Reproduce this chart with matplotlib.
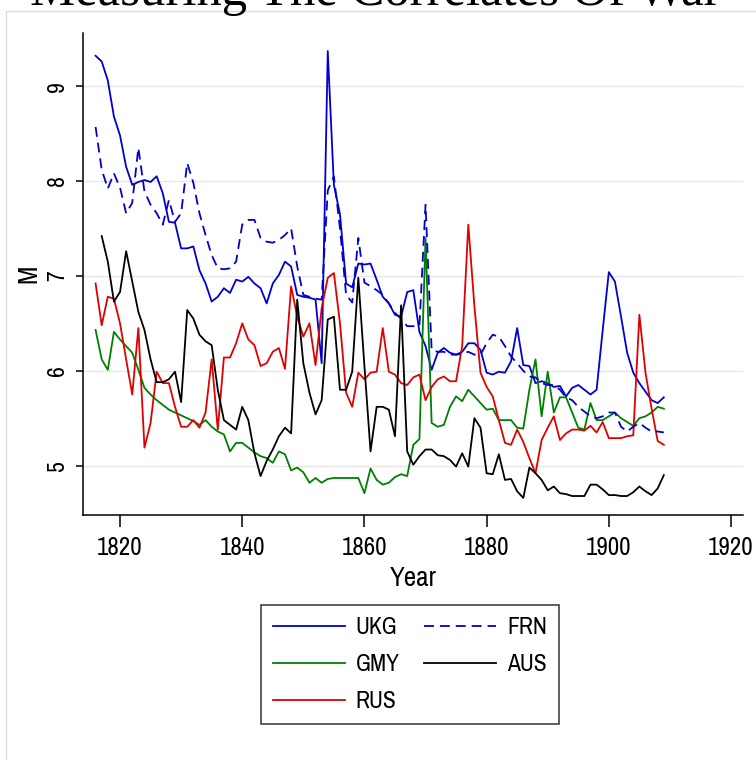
import numpy as np
import matplotlib
matplotlib.use("Agg")
import matplotlib.pyplot as plt
from matplotlib.patches import Rectangle

# Data (values of M by year, 1816-1909)
years = list(range(1816, 1910))

ukg = [9.32, 9.26, 9.06, 8.68,
       8.48, 8.15, 7.96, 7.99, 8.01, 7.99, 8.05, 7.87, 7.57, 7.56,
       7.29, 7.29, 7.31, 7.06, 6.92, 6.73, 6.78, 6.87, 6.82, 6.96,
       6.94, 6.99, 6.92, 6.87, 6.71, 6.92, 7.01, 7.15, 7.10, 6.80,
       6.78, 6.77, 6.75, 6.08, 9.37, 7.96, 7.65, 6.92, 6.88, 7.13,
       7.12, 7.13, 6.96, 6.78, 6.71, 6.59, 6.57, 6.83, 6.85, 6.41,
       6.26, 6.01, 6.19, 6.24, 6.19, 6.17, 6.20, 6.29, 6.29, 6.22,
       5.98, 5.96, 5.99, 5.98, 6.10, 6.45, 6.06, 6.05, 5.87, 5.89,
       5.87, 5.83, 5.84, 5.73, 5.82, 5.85, 5.80, 5.75, 5.80, 6.43,
       7.04, 6.94, 6.57, 6.19, 5.98, 5.87, 5.78, 5.69, 5.66, 5.72]

frn = [8.57, 8.12, 7.92, 8.08,
       7.93, 7.66, 7.77, 8.35, 7.89, 7.75, 7.66, 7.54, 7.80, 7.57,
       7.66, 8.19, 7.98, 7.66, 7.43, 7.22, 7.08, 7.07, 7.08, 7.15,
       7.54, 7.59, 7.59, 7.40, 7.36, 7.35, 7.38, 7.43, 7.50, 7.10,
       6.80, 6.78, 6.76, 6.75, 7.90, 8.05, 7.50, 6.80, 6.72, 7.40,
       6.93, 6.89, 6.85, 6.80, 6.71, 6.61, 6.55, 6.47, 6.47, 6.47,
       7.75, 6.22, 6.20, 6.20, 6.17, 6.17, 6.18, 6.20, 6.17, 6.17,
       6.29, 6.38, 6.36, 6.26, 6.15, 6.08, 6.00, 5.94, 5.93, 5.87,
       5.85, 5.85, 5.80, 5.72, 5.69, 5.62, 5.57, 5.52, 5.50, 5.52,
       5.56, 5.56, 5.41, 5.36, 5.41, 5.45, 5.40, 5.36, 5.36, 5.35]

gmy = [6.43, 6.12, 6.01, 6.41,
       6.33, 6.26, 6.19, 6.01, 5.82, 5.75, 5.69, 5.64, 5.59, 5.56,
       5.53, 5.50, 5.47, 5.43, 5.48, 5.41, 5.36, 5.33, 5.15, 5.24,
       5.24, 5.19, 5.14, 5.10, 5.08, 5.03, 5.15, 5.12, 4.95, 4.98,
       4.93, 4.82, 4.87, 4.82, 4.86, 4.87, 4.87, 4.87, 4.87, 4.87,
       4.71, 4.97, 4.85, 4.80, 4.82, 4.88, 4.91, 4.89, 5.22, 5.28,
       7.40, 5.45, 5.41, 5.43, 5.62, 5.73, 5.68, 5.80, 5.73, 5.66,
       5.59, 5.60, 5.48, 5.48, 5.48, 5.40, 5.39, 5.80, 6.12, 5.52,
       5.99, 5.56, 5.72, 5.72, 5.56, 5.40, 5.38, 5.66, 5.48, 5.48,
       5.52, 5.56, 5.50, 5.46, 5.42, 5.50, 5.52, 5.56, 5.62, 5.60]

rus = [6.92, 6.48, 6.78, 6.76,
       6.50, 6.12, 5.75, 6.45, 5.19, 5.45, 5.99, 5.87, 5.87, 5.62,
       5.41, 5.41, 5.48, 5.40, 5.56, 6.12, 5.38, 6.14, 6.14, 6.29,
       6.50, 6.33, 6.27, 6.05, 6.08, 6.20, 6.24, 6.02, 6.89, 6.57,
       6.36, 6.50, 6.06, 6.66, 6.98, 7.03, 6.50, 5.77, 5.62, 5.98,
       5.91, 5.98, 5.99, 6.45, 5.99, 5.96, 5.87, 5.85, 5.93, 5.96,
       5.69, 5.83, 5.91, 5.94, 5.89, 5.89, 6.26, 7.54, 6.68, 5.98,
       5.83, 5.73, 5.48, 5.24, 5.22, 5.38, 5.25, 5.08, 4.92, 5.27,
       5.40, 5.52, 5.27, 5.34, 5.38, 5.38, 5.37, 5.42, 5.35, 5.46,
       5.29, 5.29, 5.29, 5.31, 5.32, 6.59, 5.98, 5.60, 5.26, 5.22]

aus = [np.nan, 7.42, 7.15, 6.73,
       6.83, 7.26, 6.94, 6.62, 6.43, 6.12, 5.88, 5.88, 5.91, 5.99,
       5.67, 6.64, 6.55, 6.38, 6.31, 6.27, 5.80, 5.48, 5.43, 5.38,
       5.62, 5.48, 5.13, 4.89, 5.05, 5.17, 5.31, 5.40, 5.34, 6.75,
       6.08, 5.77, 5.54, 5.69, 6.54, 6.57, 5.80, 5.80, 5.99, 6.98,
       6.05, 5.15, 5.62, 5.62, 5.59, 5.31, 6.69, 5.15, 5.01, 5.10,
       5.17, 5.17, 5.11, 5.10, 5.06, 4.99, 5.13, 4.99, 5.50, 5.40,
       4.92, 4.91, 5.12, 4.85, 4.86, 4.73, 4.66, 4.98, 4.92, 4.85,
       4.74, 4.78, 4.71, 4.70, 4.68, 4.68, 4.68, 4.80, 4.80, 4.75,
       4.69, 4.69, 4.68, 4.68, 4.72, 4.78, 4.73, 4.69, 4.76, 4.90]

x_ticks = [1820, 1840, 1860, 1880, 1900, 1920]
y_ticks = [5, 6, 7, 8, 9]

# narrow sans face like the Stata export; first installed one wins
plt.rcParams["font.family"] = ["Liberation Sans Narrow", "Archivo Narrow",
                               "Liberation Sans", "DejaVu Sans"]

fig = plt.figure(figsize=(7.56, 7.6), dpi=100)
fig.patch.set_facecolor("white")

# light frame around the graph region
fig.patches.append(Rectangle((6 / 756, -0.01), 1.0, 1 - 11 / 760 + 0.01,
                             transform=fig.transFigure, fill=False,
                             edgecolor="#dcdcdc", linewidth=1.0))

# title, mostly cut off at the top edge (as in the reference)
fig.text(30 / 756, 1 - 5 / 760, "Measuring The Correlates Of War",
         family=["Liberation Serif", "DejaVu Serif"], fontsize=36.5,
         va="baseline", ha="left", color="black")

ax = fig.add_axes([83 / 756, 1 - 515 / 760, 660 / 756, 482 / 760])

ax.plot(years, ukg, color="#0000d0", lw=1.3, label="UKG")
ax.plot(years, gmy, color="#008000", lw=1.3, label="GMY")
ax.plot(years, rus, color="#e00000", lw=1.3, label="RUS")
ax.plot(years, frn, color="#0000d0", lw=1.3, dashes=(5.5, 3.3), label="FRN")
ax.plot(years, aus, color="black", lw=1.3, label="AUS")

ax.set_xlim(1813.94, 1921.96)
ax.set_ylim(4.48, 9.56)
ax.set_xticks(x_ticks)
ax.set_yticks(y_ticks)
ax.set_yticklabels([str(v) for v in y_ticks], rotation=90, va="center")

ax.grid(True, axis="y", color="#e6e6e6", lw=1.0)
ax.set_axisbelow(True)
for s in ["top", "right"]:
    ax.spines[s].set_visible(False)
for s in ["left", "bottom"]:
    ax.spines[s].set_linewidth(1.1)

ax.tick_params(axis="x", length=8.5, width=1.1, pad=6.5, labelsize=18)
ax.tick_params(axis="y", length=5.2, width=1.1, pad=5.5, labelsize=17)

ax.set_xlabel("Year", fontsize=19.5, labelpad=5)
ax.set_ylabel("M", fontsize=19.5, labelpad=4)

# legend: 2 columns, UKG/GMY/RUS left, FRN/AUS right
h, l = ax.get_legend_handles_labels()
leg = fig.legend(h, l, ncol=2, loc="center",
                 bbox_to_anchor=(410 / 756, 1 - 664.5 / 760),
                 fontsize=17, frameon=True, fancybox=False,
                 handlelength=3.05, handletextpad=0.45,
                 columnspacing=1.05, labelspacing=0.68,
                 borderpad=0.5, borderaxespad=0)
leg.get_frame().set_edgecolor("black")
leg.get_frame().set_linewidth(1.1)

fig.savefig("out.png", dpi=100, facecolor="white")
